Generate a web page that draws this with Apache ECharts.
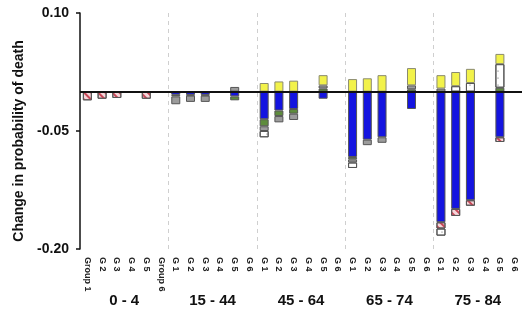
<!DOCTYPE html>
<html>
<head>
<meta charset="utf-8">
<script src="https://cdn.jsdelivr.net/npm/echarts@6/dist/echarts.min.js"></script>
<style>
  html, body { margin: 0; padding: 0; background: #fff; }
  #chart { width: 522px; height: 326px; }
</style>
</head>
<body>
<div id="chart"></div>
<script>
// Age bands and the subgroups shown inside each band
const ageGroups = ['0 - 4', '15 - 44', '45 - 64', '65 - 74', '75 - 84'];
const firstBandLabels = ['Group 1', 'G 2', 'G 3', 'G 4', 'G 5', 'Group 6'];
const bandLabels = ['G 1', 'G 2', 'G 3', 'G 4', 'G 5', 'G 6'];
const yTicks = [0.10, -0.05, -0.20];

// Contribution of each cause to the change in probability of death
// (six subgroups per age band, in band order)
const blueCause = [
  null, null, null, null, null, null,
  -0.004, -0.004, -0.004, null, -0.006, null,
  -0.035, -0.024, -0.022, null, -0.009, null,
  -0.083, -0.061, -0.058, null, -0.022, null,
  -0.166, -0.149, -0.138, null, -0.058, null
];
const greenCause = [
  null, null, null, null, null, null,
  -0.002, -0.001, -0.001, null, -0.005, null,
  -0.009, -0.007, -0.006, null, 0.004, null,
  -0.003, null, null, null, 0.003, null,
  null, null, null, null, 0.005, null
];
const grayCause = [
  null, null, null, null, null, null,
  -0.010, -0.008, -0.008, null, 0.006, null,
  -0.006, -0.008, -0.008, null, 0.004, null,
  -0.004, -0.007, -0.007, null, 0.005, null,
  0.004, null, null, null, null, null
];
const redCause = [
  -0.011, -0.009, -0.008, null, -0.009, null,
  null, null, null, null, null, null,
  null, null, null, null, null, null,
  null, null, null, null, null, null,
  -0.008, -0.009, -0.007, null, -0.006, null
];
const whiteCause = [
  null, null, null, null, null, null,
  null, null, null, null, null, null,
  -0.008, null, null, null, null, null,
  -0.007, null, null, null, null, null,
  -0.009, 0.007, 0.011, null, 0.030, null
];
const yellowCause = [
  null, null, null, null, null, null,
  null, null, null, null, null, null,
  0.011, 0.013, 0.014, null, 0.013, null,
  0.016, 0.017, 0.021, null, 0.022, null,
  0.017, 0.018, 0.018, null, 0.013, null
];

const categories = [];
ageGroups.forEach((g, gi) => {
  (gi === 0 ? firstBandLabels : bandLabels).forEach(l => categories.push(l));
});

const FONT = 'Liberation Sans, Arial, sans-serif';

function barSeries(name, data, color, extra) {
  return {
    name: name,
    type: 'bar',
    stack: 'total',
    barWidth: 9,
    data: data,
    itemStyle: Object.assign({
      color: color,
      borderColor: '#555',
      borderWidth: 1
    }, extra || {})
  };
}

const chart = echarts.init(document.getElementById('chart'), null, { renderer: 'canvas' });

const series = [
  barSeries('blue', blueCause, '#1414e0'),
  barSeries('green', greenCause, '#5e8c3c'),
  barSeries('gray', grayCause, '#9c9c9c'),
  barSeries('red', redCause, '#f6d6da', {
    decal: {
      symbol: 'rect',
      symbolSize: 1,
      dashArrayX: [1, 0],
      dashArrayY: [2, 3],
      rotation: Math.PI / 4,
      color: '#c84858'
    }
  }),
  barSeries('white', whiteCause, '#ffffff', {
    decal: {
      symbol: 'circle',
      symbolSize: 0.6,
      dashArrayX: [[2, 5]],
      dashArrayY: [2, 5],
      color: '#555'
    }
  }),
  barSeries('yellow', yellowCause, '#f2f24a', { borderColor: '#8a8a70' })
];

// zero reference line
series[0].markLine = {
  silent: true,
  symbol: ['none', 'none'],
  label: { show: false },
  lineStyle: { color: '#111', width: 2, type: 'solid' },
  data: [{ yAxis: 0 }],
  z: 10
};

chart.setOption({
  animation: false,
  backgroundColor: '#fff',
  grid: { left: 80, top: 13, width: 450, height: 236 },
  xAxis: [
    {
      type: 'category',
      data: categories,
      boundaryGap: true,
      axisLine: { show: false, onZero: false },
      axisTick: { show: false },
      splitLine: {
        show: true,
        interval: (i) => i > 0 && i % 6 === 0,
        lineStyle: { color: '#cfcfcf', type: [4, 4], width: 1 }
      },
      axisLabel: {
        rotate: -90,
        interval: 0,
        margin: 8,
        fontSize: 9,
        fontWeight: 'bold',
        color: '#222',
        fontFamily: FONT
      }
    },
    {
      type: 'category',
      data: ageGroups,
      position: 'bottom',
      axisLine: { show: false, onZero: false },
      axisTick: { show: false },
      splitLine: { show: false },
      axisLabel: {
        interval: 0,
        margin: 44,
        fontSize: 15,
        fontWeight: 'bold',
        color: '#111',
        fontFamily: FONT
      }
    }
  ],
  yAxis: {
    type: 'value',
    min: -0.20,
    max: 0.10,
    name: 'Change in probability of death',
    nameLocation: 'middle',
    nameGap: 54,
    nameTextStyle: {
      fontSize: 14,
      fontWeight: 'bold',
      color: '#111',
      fontFamily: FONT,
      padding: [0, 20, 0, 0]
    },
    axisLine: { show: true, lineStyle: { color: '#111', width: 1.5 } },
    axisTick: { show: true, length: 4, customValues: yTicks, lineStyle: { color: '#111', width: 1.5 } },
    splitLine: { show: false },
    axisLabel: {
      customValues: yTicks,
      margin: 11,
      fontSize: 14,
      fontWeight: 'bold',
      color: '#111',
      fontFamily: FONT,
      formatter: (v) => v.toFixed(2)
    }
  },
  series: series
});
</script>
</body>
</html>
